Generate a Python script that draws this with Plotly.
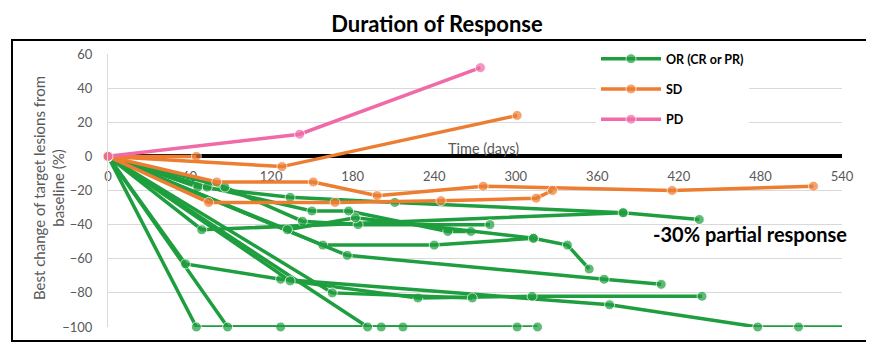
import plotly.graph_objects as go

# ---------------- data (days, % change) ----------------
or_days = [
    [0, 65, 127, 201, 217],
    [0, 88, 301, 316],
    [0, 191],
    [0, 57, 127, 369, 478, 508, 540],
    [0, 134, 228, 312, 437],
    [0, 165, 268],
    [0, 158, 240, 313, 338, 354],
    [0, 176, 365, 407],
    [0, 69, 379, 435],
    [0, 66, 134, 211, 379],
    [0, 73, 150, 177, 250, 267],
    [0, 86, 143, 184, 281],
    [0, 132, 182, 313],
]
or_pct = [
    [0, -100, -100, -100, -100],
    [0, -100, -100, -100],
    [0, -100],
    [0, -63, -72, -87, -100, -100, -100],
    [0, -73, -83, -82, -82],
    [0, -80, -83],
    [0, -52, -52, -48, -52, -66],
    [0, -58, -72, -75],
    [0, -43, -33, -37],
    [0, -18, -24, -27, -33],
    [0, -18, -32, -32, -44, -44],
    [0, -18, -38, -40, -40],
    [0, -43, -36, -48],
]
sd_days = [
    [0, 65],
    [0, 128, 301],
    [0, 80, 151, 198, 276, 415, 519],
    [0, 74, 167, 245, 315, 327],
]
sd_pct = [
    [0, 0],
    [0, -6, 24],
    [0, -15, -15, -23, -17.5, -20, -17.5],
    [0, -27, -27, -26, -24.5, -20],
]
pd_days = [[0, 141, 274]]
pd_pct = [[0, 13, 52]]

x_ticks = [0, 60, 120, 180, 240, 300, 360, 420, 480, 540]
y_ticks = [-100, -80, -60, -40, -20, 0, 20, 40, 60]

GREEN = "#1E9E3E"
ORANGE = "#ED7D31"
PINK = "#EF6AA6"
FONT = "Lato"

# page body has an 8px margin, so the figure is drawn offset by 8px
OFF = 8
W, H = 874 - OFF, 347 - OFF
L = 108 - OFF
T = 54 - OFF
R = W - (842 - OFF)
B = H - (329 - OFF)
PW, PH = W - L - R, H - T - B


def px_x(p):  # window pixel -> paper x
    return (p - OFF - L) / PW


def px_y(p):  # window pixel -> paper y
    return (H - B - (p - OFF)) / PH


fig = go.Figure()


def add_group(days_list, pct_list, color, name):
    for i, (xs, ys) in enumerate(zip(days_list, pct_list)):
        sizes = [10] * len(xs)
        if xs[-1] >= 540:
            sizes[-1] = 0
        fig.add_trace(go.Scatter(
            x=xs, y=ys, mode="lines+markers",
            line=dict(color=color, width=3.5),
            marker=dict(color=color, size=sizes),
            name="<b>" + name + "</b>", legendgroup=name, showlegend=(i == 0),
            cliponaxis=False, hoverinfo="skip",
        ))


add_group(or_days, or_pct, GREEN, "OR (CR or PR)")
add_group(sd_days, sd_pct, ORANGE, "SD")
add_group(pd_days, pd_pct, PINK, "PD")

fig.update_layout(
    width=W, height=H,
    margin=dict(l=L, r=R, t=T, b=B),
    paper_bgcolor="white", plot_bgcolor="white",
    font=dict(family=FONT, color="#595959", size=13),
    title=dict(text="<b>Duration of Response</b>", x=(437 - OFF) / W, xanchor="center",
               y=1 - 9 / H, yanchor="top",
               font=dict(family=FONT, size=22, color="#000000")),
    showlegend=True,
    legend=dict(x=px_x(596), y=px_y(44), xanchor="left", yanchor="top",
                bgcolor="white", font=dict(family=FONT, size=12.5, color="#000000"),
                tracegroupgap=11, itemwidth=60),
    xaxis=dict(range=[0, 540], tickvals=x_ticks, showgrid=False, zeroline=False,
               showline=True, linecolor="black", linewidth=4,
               anchor="free", position=100 / 160, side="bottom",
               ticks="", ticklabelstandoff=7, layer="below traces",
               tickfont=dict(size=13, color="#595959")),
    yaxis=dict(range=[-100, 60], tickvals=y_ticks, showgrid=True,
               gridcolor="#D9D9D9", gridwidth=1, zeroline=False,
               showline=True, linecolor="#D9D9D9", linewidth=1,
               ticks="", ticklabelstandoff=12,
               tickfont=dict(size=13, color="#595959")),
    annotations=[
        dict(text="Best change of target lesions from<br>baseline (%)",
             x=px_x(49), y=px_y(189), xref="paper", yref="paper",
             xanchor="center", yanchor="middle", textangle=-90,
             showarrow=False, font=dict(size=15, color="#595959")),
        dict(text="Time (days)", x=276, y=4.7, xref="x", yref="y",
             showarrow=False, font=dict(size=14.5, color="#595959")),
        dict(text="<b>-30% partial response</b>", x=472, y=-45.5, xref="x", yref="y",
             showarrow=False, font=dict(size=20, color="#000000")),
    ],
    shapes=[
        dict(type="rect", xref="paper", yref="paper",
             x0=px_x(12), x1=px_x(867), y0=px_y(343), y1=px_y(40),
             line=dict(color="black", width=2), fillcolor="rgba(0,0,0,0)"),
    ],
)

fig.write_html("out.html")
